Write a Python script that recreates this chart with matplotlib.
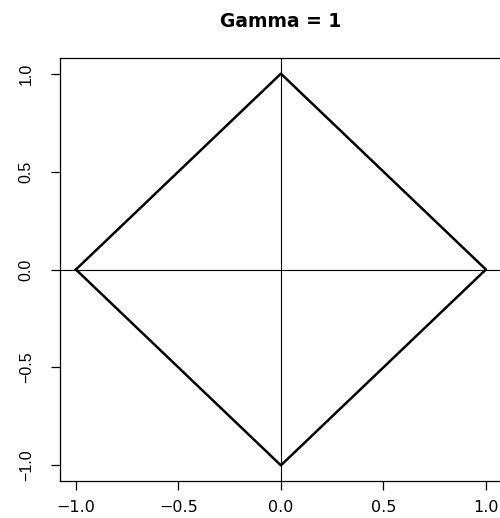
import matplotlib.pyplot as plt

plt.rcParams['font.family'] = ['Liberation Sans', 'DejaVu Sans']

# unit ball for gamma = 1
gamma = 1
xs = [-1.0, 0.0, 1.0, 0.0, -1.0]
ys = [0.0, 1.0, 0.0, -1.0, 0.0]
ticks = [-1.0, -0.5, 0.0, 0.5, 1.0]
tick_labels = ['\u22121.0', '\u22120.5', '0.0', '0.5', '1.0']

fig = plt.figure(figsize=(5.0, 5.18), dpi=100)
ax = fig.add_axes([0.119, 0.0714, 0.8856, 0.8166])

ax.axhline(0, color='black', lw=0.8)
ax.axvline(0, color='black', lw=0.8)
ax.plot(xs, ys, color='black', lw=1.8)

ax.set_xlim(-1.08, 1.08)
ax.set_ylim(-1.08, 1.08)
ax.set_xticks(ticks)
ax.set_xticklabels(tick_labels, family='DejaVu Sans', fontsize=11.5)
ax.set_yticks(ticks)
ax.set_yticklabels(tick_labels, rotation=90, va='center', fontsize=11.5)
ax.tick_params(length=6.5, width=0.9)
ax.tick_params(axis='x', pad=7)
ax.tick_params(axis='y', pad=12)
for s in ax.spines.values():
    s.set_linewidth(0.9)

ax.set_title('Gamma = %d' % gamma, family='DejaVu Sans', fontsize=13.5,
             fontweight='bold', pad=22)

fig.savefig('out.png', dpi=100)
